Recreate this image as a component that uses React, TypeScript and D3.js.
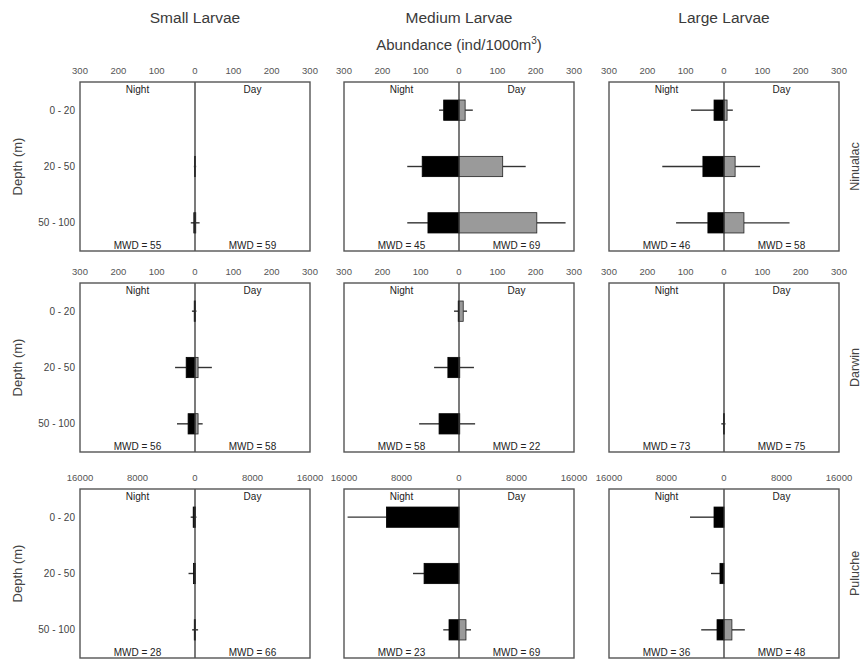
import React from "react";
import * as d3 from "d3";

// Larval abundance (ind/1000 m3) by depth stratum, night vs day,
// for three size classes (columns) at three sites (rows).
const depths = ["0 - 20", "20 - 50", "50 - 100"];
const sizeClasses = ["Small Larvae", "Medium Larvae", "Large Larvae"];
const sites = ["Ninualac", "Darwin", "Puluche"];
const siteMax = [300, 300, 16000];
const siteTicks = [
  [-300, -200, -100, 0, 100, 200, 300],
  [-300, -200, -100, 0, 100, 200, 300],
  [-16000, -8000, 0, 8000, 16000],
];

// [size class][depth]
const ninualacNight = [[0, 1, 3], [40, 96, 81], [26, 55, 42]];
const ninualacNightErr = [[0, 2, 8], [12, 39, 54], [60, 106, 83]];
const ninualacDay = [[0, 1, 2], [16, 114, 203], [8, 29, 52]];
const ninualacDayErr = [[0, 2, 10], [20, 60, 75], [15, 65, 119]];

const darwinNight = [[2, 23, 18], [2, 29, 52], [0, 0, 1]];
const darwinNightErr = [[6, 29, 29], [11, 36, 52], [0, 0, 6]];
const darwinDay = [[1, 8, 8], [11, 2, 2], [0, 0, 1]];
const darwinDayErr = [[3, 36, 12], [10, 37, 40], [0, 0, 3]];

const pulucheNight = [[250, 200, 100], [10100, 4860, 1390], [1390, 560, 970]];
const pulucheNightErr = [[350, 700, 300], [5400, 1540, 800], [3340, 1250, 2200]];
const pulucheDay = [[60, 40, 80], [0, 0, 970], [0, 0, 1100]];
const pulucheDayErr = [[150, 100, 350], [0, 0, 700], [0, 0, 1800]];

// Mean weighted depth, [size class][night, day]
const ninualacMWD = [[55, 59], [45, 69], [46, 58]];
const darwinMWD = [[56, 58], [58, 22], [73, 75]];
const pulucheMWD = [[28, 66], [23, 69], [36, 48]];

const siteNight = [ninualacNight, darwinNight, pulucheNight];
const siteNightErr = [ninualacNightErr, darwinNightErr, pulucheNightErr];
const siteDay = [ninualacDay, darwinDay, pulucheDay];
const siteDayErr = [ninualacDayErr, darwinDayErr, pulucheDayErr];
const siteMWD = [ninualacMWD, darwinMWD, pulucheMWD];

const W = 863;
const H = 659;
const colX = [80, 344, 609];
const rowY = [82, 283, 489];
const panelW = 230;
const panelH = 169;
const FONT = "'Liberation Sans', Arial, sans-serif";
const TXT = "#3a3a3a";

function Panel({ site, size }: { site: number; size: number }) {
  const x0 = colX[size];
  const y0 = rowY[site];
  const max = siteMax[site];
  const x = d3.scaleLinear().domain([-max, max]).range([x0, x0 + panelW]);
  const y = d3.scaleBand<string>().domain(depths).range([y0, y0 + panelH]).padding(0);
  const barH = y.bandwidth() * 0.36;
  const night = siteNight[site][size];
  const nightErr = siteNightErr[site][size];
  const day = siteDay[site][size];
  const dayErr = siteDayErr[site][size];
  const mwd = siteMWD[site][size];
  const zero = x(0);
  const fmt = (v: number) => String(Math.abs(v));

  return (
    <g>
      {siteTicks[site].map((t) => (
        <text
          key={t}
          x={x(t)}
          y={y0 - 8}
          textAnchor="middle"
          fontSize={9.5}
          fill="#555"
          fontFamily={FONT}
        >
          {fmt(t)}
        </text>
      ))}
      {depths.map((d, i) => {
        const cy = (y(d) as number) + y.bandwidth() / 2;
        return (
          <g key={d}>
            {/* night whisker + bar */}
            <line
              x1={x(-night[i])}
              x2={x(-night[i] - nightErr[i])}
              y1={cy}
              y2={cy}
              stroke="#333"
              strokeWidth={1.4}
            />
            <rect
              x={x(-night[i])}
              y={cy - barH / 2}
              width={zero - x(-night[i])}
              height={barH}
              fill="#000"
              stroke="#000"
              strokeWidth={0.8}
            />
            {/* day whisker + bar */}
            <line
              x1={x(day[i])}
              x2={x(day[i] + dayErr[i])}
              y1={cy}
              y2={cy}
              stroke="#333"
              strokeWidth={1.4}
            />
            <rect
              x={zero}
              y={cy - barH / 2}
              width={x(day[i]) - zero}
              height={barH}
              fill="#9a9a9a"
              stroke="#222"
              strokeWidth={0.8}
            />
          </g>
        );
      })}
      <line x1={zero} x2={zero} y1={y0} y2={y0 + panelH} stroke="#333" strokeWidth={1.3} />
      <rect
        x={x0}
        y={y0}
        width={panelW}
        height={panelH}
        fill="none"
        stroke="#555"
        strokeWidth={1.4}
      />
      <text x={(x0 + zero) / 2} y={y0 + 11} textAnchor="middle" fontSize={10} fill="#222" fontFamily={FONT}>
        Night
      </text>
      <text x={(zero + x0 + panelW) / 2} y={y0 + 11} textAnchor="middle" fontSize={10} fill="#222" fontFamily={FONT}>
        Day
      </text>
      <text x={(x0 + zero) / 2} y={y0 + panelH - 2} textAnchor="middle" fontSize={10} fill="#222" fontFamily={FONT}>
        {`MWD = ${mwd[0]}`}
      </text>
      <text x={(zero + x0 + panelW) / 2} y={y0 + panelH - 2} textAnchor="middle" fontSize={10} fill="#222" fontFamily={FONT}>
        {`MWD = ${mwd[1]}`}
      </text>
      {size === 0 &&
        depths.map((d) => (
          <text
            key={d}
            x={75}
            y={(y(d) as number) + y.bandwidth() / 2 + 3.5}
            textAnchor="end"
            fontSize={10}
            fill="#444"
            fontFamily={FONT}
          >
            {d}
          </text>
        ))}
    </g>
  );
}

export default function App() {
  return (
    <svg
      width={W}
      height={H}
      style={{ position: "absolute", left: 0, top: 0, background: "#fff" }}
    >
      <rect width={W} height={H} fill="#fff" />
      {sizeClasses.map((s, i) => (
        <text
          key={s}
          x={colX[i] + panelW / 2}
          y={23}
          textAnchor="middle"
          fontSize={15.5}
          fill={TXT}
          fontFamily={FONT}
        >
          {s}
        </text>
      ))}
      <text x={colX[1] + panelW / 2} y={50} textAnchor="middle" fontSize={15} fill={TXT} fontFamily={FONT}>
        Abundance (ind/1000m
        <tspan fontSize={10} dy={-6}>
          3
        </tspan>
        <tspan dy={6}>)</tspan>
      </text>
      {sites.map((site, r) => (
        <g key={site}>
          {sizeClasses.map((s, c) => (
            <Panel key={s} site={r} size={c} />
          ))}
          <text
            transform={`translate(22,${rowY[r] + panelH / 2}) rotate(-90)`}
            textAnchor="middle"
            fontSize={13}
            fill="#444"
            fontFamily={FONT}
          >
            Depth (m)
          </text>
          <text
            transform={`translate(859,${rowY[r] + panelH / 2}) rotate(-90)`}
            textAnchor="middle"
            fontSize={12.5}
            fill="#444"
            fontFamily={FONT}
          >
            {site}
          </text>
        </g>
      ))}
    </svg>
  );
}
